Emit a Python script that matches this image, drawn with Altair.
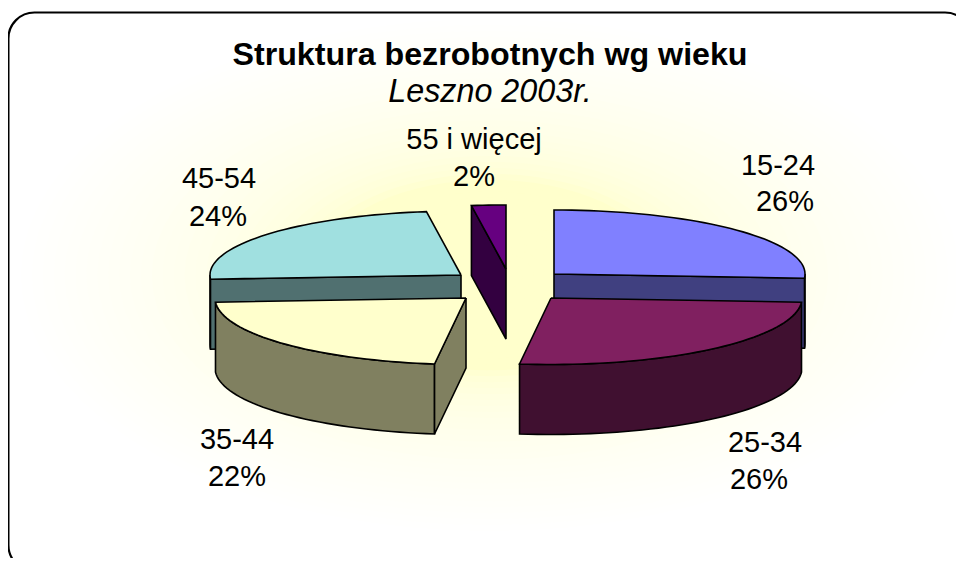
import math
import altair as alt
import pandas as pd

# --- chart values ---
categories = ["15-24", "25-34", "35-44", "45-54", "55 i więcej"]
shares = [26.0, 26.0, 22.0, 23.8, 2.2]
percent_labels = ["26%", "26%", "22%", "24%", "2%"]
title_text = "Struktura bezrobotnych wg wieku"
subtitle_text = "Leszno 2003r."

# --- slice styling and layout ---
top_colors = ["#8080FF", "#802060", "#FFFFCC", "#A0E0E0", "#660080"]
side_colors = ["#404080", "#401030", "#808060", "#507070", "#330040"]
slice_centers = [(554, 274), (551, 298), (466, 298), (461, 275), (506, 269)]
label_positions = [(778, 166, 785, 202), (765, 443, 759, 480), (237, 440, 237, 477),
                   (219, 179, 218, 217), (474, 140, 474, 177)]
RX, RY_BACK, RY_FRONT, DEPTH = 251, 64, 66.5, 70
DRAW_ORDER = [4, 3, 0, 1, 2]


def rim(cx, cy, deg):
    a = math.radians(deg)
    ry = RY_BACK if math.cos(a) > 0 else RY_FRONT
    return cx + RX * math.sin(a), cy - ry * math.cos(a)


starts = [sum(shares[:i]) * 3.6 for i in range(len(shares))]
rows = []
pid = 0


def add_poly(points, fill):
    global pid
    pts = list(points) + [points[0]]
    for i, (x, y) in enumerate(pts):
        rows.append({"px": x, "py": y, "i": i, "pid": pid, "fill": fill})
    pid += 1


for s in DRAW_ORDER:
    cx, cy = slice_centers[s]
    a0, a1 = starts[s], starts[s] + shares[s] * 3.6
    n = max(6, int((a1 - a0) / 2))
    arc = [a0 + (a1 - a0) * k / n for k in range(n + 1)]
    # outer wall: the part of the rim that faces the viewer
    lo, hi = max(a0, 90), min(a1, 270)
    if hi > lo:
        m = max(2, int((hi - lo) / 2))
        wall = [lo + (hi - lo) * k / m for k in range(m + 1)]
        upper = [rim(cx, cy, d) for d in wall]
        add_poly(upper + [(x, y + DEPTH) for x, y in reversed(upper)], side_colors[s])
    # radial wall that faces the viewer
    if s == 0:
        d = a1
    elif s in (2, 3, 4):
        d = a0
    else:
        d = None
    if d is not None:
        rx_, ry_ = rim(cx, cy, d)
        add_poly([(cx, cy), (rx_, ry_), (rx_, ry_ + DEPTH), (cx, cy + DEPTH)], side_colors[s])
    # top face
    add_poly([(cx, cy)] + [rim(cx, cy, d) for d in arc], top_colors[s])

slices = pd.DataFrame(rows)

# soft elliptical glow behind the pie
GLOW_STEPS = 44
GC = (490, 275)
glow_rows = []
for r in range(GLOW_STEPS):
    t = 1 - r / GLOW_STEPS  # 1 = outermost
    t2 = max(0.0, (t - 0.38) / 0.62)
    blue = 255 - int(round(51 * (1 - t2 ** 0.48)))
    col = f"#ffff{blue:02x}"
    for k in range(73):
        a = math.radians(k * 5)
        glow_rows.append({"px": GC[0] + 480 * t * math.cos(a), "py": GC[1] + 262 * t * math.sin(a),
                          "i": k, "pid": r, "fill": col})
glow = pd.DataFrame(glow_rows)

x_scale = alt.Scale(domain=[8, 956], range=[0, 948])
y_scale = alt.Scale(domain=[8, 558], range=[0, 550])
X = alt.X("px:Q", scale=x_scale, axis=None)
Y = alt.Y("py:Q", scale=y_scale, axis=None)


def poly_layer(df, **mark):
    return alt.Chart(df).mark_line(**mark).encode(
        x=X, y=Y, order=alt.Order("i:Q"), detail="pid:N",
        fill=alt.Fill("fill:N", scale=None, legend=None),
    )


FRAME = pd.DataFrame([{"px": 8.4, "py": 12.5, "px2": 971, "py2": 571}])
frame = alt.Chart(FRAME).mark_rect(fill="#ffffff", cornerRadius=26).encode(
    x=X, y=Y, x2="px2:Q", y2="py2:Q")

glow_layer = poly_layer(glow, strokeWidth=0, strokeOpacity=0)
frame_line = alt.Chart(FRAME).mark_rect(
    fill="transparent", stroke="#000000", strokeWidth=2.2, cornerRadius=26
).encode(x=X, y=Y, x2="px2:Q", y2="py2:Q")

pie = poly_layer(slices, stroke="#000000", strokeWidth=1.6, strokeJoin="miter")

label_rows = []
for c, p, (x1, y1, x2, y2) in zip(categories, percent_labels, label_positions):
    label_rows.append({"px": x1, "py": y1, "t": c})
    label_rows.append({"px": x2, "py": y2, "t": p})
FONT = "Liberation Sans"
labels = alt.Chart(pd.DataFrame(label_rows)).mark_text(
    font=FONT, fontSize=29, color="#000000", align="center", baseline="middle"
).encode(x=X, y=Y, text="t:N")
title = alt.Chart(pd.DataFrame([{"px": 490, "py": 55, "t": title_text}])).mark_text(
    font=FONT, fontSize=32.2, fontWeight="bold", color="#000000", align="center", baseline="middle"
).encode(x=X, y=Y, text="t:N")
subtitle = alt.Chart(pd.DataFrame([{"px": 490, "py": 92, "t": subtitle_text}])).mark_text(
    font=FONT, fontSize=32.3, fontStyle="italic", color="#000000", align="center", baseline="middle"
).encode(x=X, y=Y, text="t:N")

chart = alt.layer(frame, glow_layer, frame_line, pie, labels, title, subtitle).properties(
    width=948, height=550, padding=0, background="transparent",
    autosize=alt.AutoSizeParams(type="none"),
).configure_view(stroke=None)

chart.save("out.html", embed_options={"renderer": "svg", "actions": False})
